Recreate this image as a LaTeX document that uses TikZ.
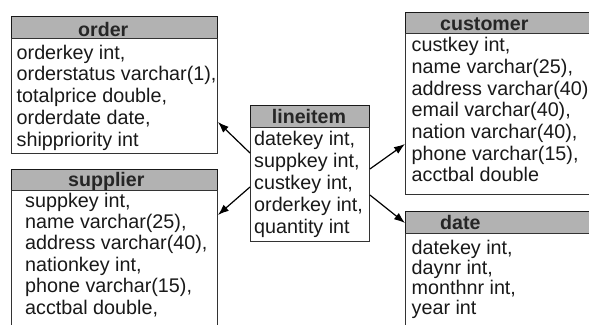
\documentclass[tikz,border=0pt]{standalone}
\usepackage{fontspec}
\setmainfont{Liberation Sans}
\usetikzlibrary{arrows.meta}
\begin{document}
\begin{tikzpicture}[x=1pt,y=-1pt,
  hdr/.style={draw=black!90,line width=1.1pt,fill=black!30,anchor=north west,inner sep=0pt},
  bodybox/.style={draw=black!80,line width=0.9pt,fill=white,anchor=north west,inner sep=0pt},
  htext/.style={anchor=base west,inner sep=0pt,font=\fontsize{19.6}{22}\selectfont\bfseries,text=black!85},
  ftext/.style={anchor=base west,inner sep=0pt,font=\fontsize{19.75}{22}\selectfont,text=black!90},
  conn/.style={line width=1.2pt,-{Latex[length=11pt,width=8pt]}}]
\useasboundingbox (0,0) rectangle (589,324);
\clip (0,0) rectangle (589,324);
\fill[white] (0,0) rectangle (589,324);
% order
\node[hdr,minimum width=206pt,minimum height=22pt] (orderhead) at (11,16) {};
\node[bodybox,minimum width=206pt,minimum height=115pt] (orderbody) at (11,38) {};
\node[htext] (ordertitle) at (78,36) {order};
\foreach \t [count=\i from 0] in {{orderkey int,},{orderstatus varchar(1),},{totalprice double,},{orderdate date,},{shippriority int}}
  \node[ftext] (o\i) at (16.5,59+\i*21.75) {\t};
% supplier
\node[hdr,minimum width=206pt,minimum height=21pt] (supphead) at (11,169) {};
\node[bodybox,minimum width=206pt,minimum height=140pt] (suppbody) at (11,190) {};
\node[htext] (supptitle) at (68,186) {supplier};
\foreach \t [count=\i from 0] in {{suppkey int,},{name varchar(25),},{address varchar(40),},{nationkey int,},{phone varchar(15),},{acctbal double,}}
  \node[ftext] (s\i) at (25,207+\i*21.4) {\t};
% lineitem
\node[hdr,minimum width=119pt,minimum height=22pt] (lihead) at (250,105) {};
\node[bodybox,minimum width=119pt,minimum height=114pt] (libody) at (250,127) {};
\node[htext] (lititle) at (271.7,123.3) {lineitem};
\foreach \t [count=\i from 0] in {{datekey int,},{suppkey int,},{custkey int,},{orderkey int,},{quantity int}}
  \node[ftext] (l\i) at (254,145+\i*22) {\t};
% customer
\node[hdr,minimum width=190pt,minimum height=21pt] (custhead) at (405,12) {};
\node[bodybox,minimum width=190pt,minimum height=161pt] (custbody) at (405,33) {};
\node[htext] (custtitle) at (440,30.7) {customer};
\foreach \t [count=\i from 0] in {{custkey int,},{name varchar(25),},{address varchar(40)},{email varchar(40),},{nation varchar(40),},{phone varchar(15),},{acctbal double}}
  \node[ftext] (c\i) at (411.5,51.7+\i*21.67) {\t};
% date
\node[hdr,minimum width=190pt,minimum height=22pt] (datehead) at (405,211) {};
\node[bodybox,minimum width=190pt,minimum height=97pt] (datebody) at (405,233) {};
\node[htext] (datetitle) at (440,229) {date};
\foreach \t [count=\i from 0] in {{datekey int,},{daynr int,},{monthnr int,},{year int}}
  \node[ftext] (d\i) at (411.5,254+\i*20.3) {\t};
% connectors
\draw[conn] (libody.west |- 0,153) -- (orderbody.east |- 0,122);
\draw[conn] (libody.west |- 0,187) -- (suppbody.east |- 0,215);
\draw[conn] (libody.east |- 0,169) -- (custbody.west |- 0,144);
\draw[conn] (libody.east |- 0,195) -- (datehead.west |- 0,223);
\end{tikzpicture}
\end{document}
